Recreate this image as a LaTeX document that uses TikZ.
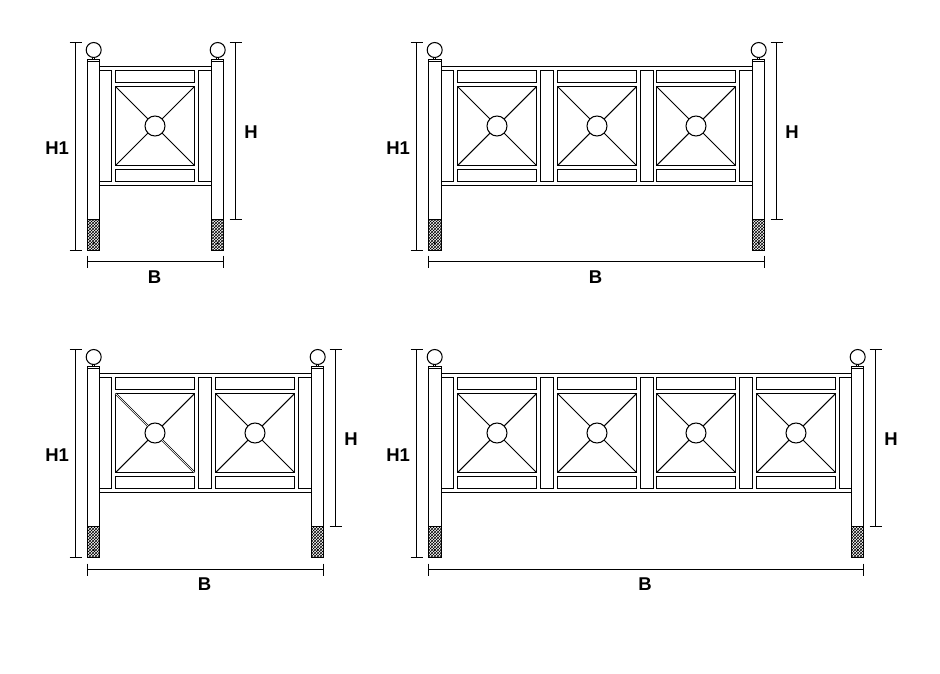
\documentclass[tikz,border=0pt]{standalone}
\usepackage{fontspec}
\setmainfont{Liberation Sans}
\usetikzlibrary{patterns}
\tikzstyle{fencepic}=[
  x=1pt,y=-1pt,line width=1.05pt,every node/.style={font=\bfseries\fontsize{18.5}{18.5}\selectfont,inner sep=0pt}
]
\tikzstyle{bar}=[
  draw,fill=white
]
\tikzstyle{footing}=[
  draw,pattern=crosshatch
]
\tikzstyle{dimline}=[
  line width=0.9pt
]
\tikzstyle{hollowbar}=[
  double,line width=0.6pt,double distance=0.7pt
]
% #1 left edge, #2 row offset, #3 panels, #4 right edge, #5 name
\newcommand{\fence}[5]{
  \pgfmathsetmacro{\wide}{#4-#1}
  \pgfmathsetmacro{\inset}{#1>400?1:0}
  \pgfmathsetmacro{\pitch}{#1>400?99.6:100}
  \pgfmathsetmacro{\bary}{#2>0?262.5:261.5}
  \pgfmathsetmacro{\lastbar}{round(111+\inset+\pitch*(#3-1))}
  \begin{scope}[shift={(#1,#2)}]
    % rails and side bars
    \draw (12,66.5) -- (\wide-12,66.5);
    \draw (12,185.5) -- (\wide-12,185.5);
    \draw [bar] (12,70.5) rectangle (24+\inset,181.5);
    \draw [bar] (\lastbar,70.5) rectangle (\wide-12,181.5);
    % panels
    \foreach \i [evaluate=\i as \px using round(28+\inset+\pitch*\i)] in {0,...,\numexpr#3-1\relax} {
      \draw [bar] (\px,70.5) rectangle +(79,12);
      \draw [bar] (\px,169.5) rectangle +(79,12);
      \draw [bar] (\px,86.5) rectangle +(79,79);
      \draw (\px,86.5) -- +(79,79);
      \draw (\px+79,86.5) -- +(-79,79);
      \draw [bar] (\px+39.5,126) circle (10);
    }
    \ifnum#3>1
      \foreach \i [evaluate=\i as \px using round(111+\inset+\pitch*\i)] in {0,...,\numexpr#3-2\relax} {
        \draw [bar] (\px,70.5) rectangle +(13,111);
      }
    \fi
    % posts
    \foreach \px/\pw in {0/12+\inset,\wide-12/12} {
      \draw (\px+5,55) -- (\px+5,59);
      \draw (\px+7.4,55) -- (\px+7.4,59);
      \draw [bar] (\px+6.2,50) circle (7.5);
      \draw [bar] (\px,59.5) rectangle +(\pw,2);
      \draw [bar] (\px,61.5) rectangle (\px+\pw,219.5);
      \draw [footing] (\px,219.5) rectangle (\px+\pw,250.5);
      \fill (\px+6.2,243) circle (1.2);
    }
    % dimensions
    \draw [dimline] (-12,42.5) -- (-12,250.5);
    \draw [dimline] (-18,42.5) -- (-6,42.5);
    \draw [dimline] (-18,250.5) -- (-6,250.5);
    \draw [dimline] (\wide+12,42.5) -- (\wide+12,219.5);
    \draw [dimline] (\wide+6,42.5) -- (\wide+18,42.5);
    \draw [dimline] (\wide+6,219.5) -- (\wide+18,219.5);
    \draw [dimline] (0,\bary) -- (\wide,\bary);
    \draw [dimline] (0,\bary-6) -- (0,\bary+6);
    \draw [dimline] (\wide,\bary-6) -- (\wide,\bary+6);
    \node (h1#5) at (-30.3,148) {H1};
    \node (h#5) at (\wide+27.6,132) {H};
    \node (b#5) at (\wide/2-1,277.3) {B};
  \end{scope}
}
\begin{document}
\begin{tikzpicture}[fencepic]
  \useasboundingbox (0,0) rectangle (940,673);
  \fill [white] (0,0) rectangle (940,673);
  \fence{87.5}{0}{1}{223.5}{a}
  \fence{428.5}{0}{3}{764.5}{b}
  \fence{87.5}{307}{2}{323.5}{c}
  \fence{428.5}{307}{4}{863.5}{d}
  % first panel of the two-bay fence has hollow struts
  \draw [hollowbar] (115.5,393.5) -- (147.9,425.9);
  \draw [hollowbar] (162.1,440.1) -- (194.5,472.5);
\end{tikzpicture}
\end{document}
